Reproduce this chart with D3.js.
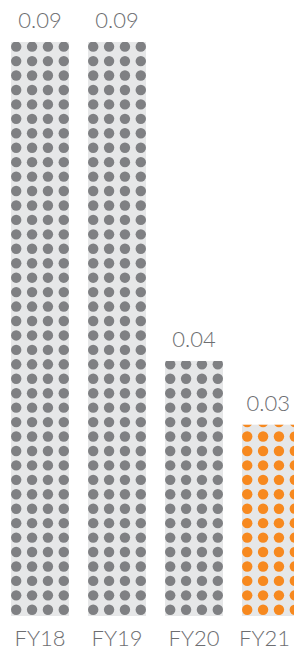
<!DOCTYPE html>
<html>
<head>
<meta charset="utf-8">
<script src="https://cdn.jsdelivr.net/npm/d3@7"></script>
<style>
  html, body { margin: 0; padding: 0; background: #fff; }
  text { font-family: "Lato", "Open Sans", sans-serif; font-weight: 300; fill: #6d6e71; }
</style>
</head>
<body>
<div id="chart"></div>
<script>
// data
const years = ["FY18", "FY19", "FY20", "FY21"];
const values = [0.09, 0.09, 0.04, 0.03];
const valueLabels = ["0.09", "0.09", "0.04", "0.03"];
const highlight = ["FY21"];

const width = 294;
const height = 651;

const svg = d3.select("#chart")
    .append("svg")
    .attr("width", width)
    .attr("height", height);

// scales
const x = d3.scaleBand()
    .domain(years)
    .range([11, 300])
    .paddingInner(0.247)
    .paddingOuter(0);

const y = d3.scaleLinear()
    .domain([0, 0.09])
    .range([616, 42]);

const dotR = 5.2;
const rowStep = 14.44;
const cols = 4;

const defs = svg.append("defs");

const bars = svg.selectAll(".bar")
    .data(years.map((d, i) => ({ year: d, value: values[i], label: valueLabels[i] })))
    .enter()
    .append("g")
    .attr("class", "bar");

// clip each bar so the top row of dots gets cut like the original
bars.each(function(d, i) {
    defs.append("clipPath")
        .attr("id", "clip" + i)
        .append("rect")
        .attr("x", x(d.year))
        .attr("y", y(d.value))
        .attr("width", x.bandwidth())
        .attr("height", y(0) - y(d.value));
});

bars.append("rect")
    .attr("x", d => x(d.year))
    .attr("y", d => y(d.value))
    .attr("width", x.bandwidth())
    .attr("height", d => y(0) - y(d.value))
    .attr("fill", "#e6e7e8");

bars.append("g")
    .attr("clip-path", (d, i) => `url(#clip${i})`)
    .each(function(d) {
        const h = y(0) - y(d.value);
        const rows = Math.ceil((h - 1) / rowStep);
        const colStep = (x.bandwidth() - 2 * dotR) / (cols - 1);
        const dots = [];
        for (let r = 0; r < rows; r++) {
            for (let c = 0; c < cols; c++) dots.push({ r, c });
        }
        d3.select(this).selectAll("circle")
            .data(dots)
            .enter()
            .append("circle")
            .attr("cx", p => x(d.year) + dotR + p.c * colStep)
            .attr("cy", p => y(0) - 1 - dotR - p.r * rowStep)
            .attr("r", dotR)
            .attr("fill", highlight.includes(d.year) ? "#f7891f" : "#7f8083");
    });

// value labels
bars.append("text")
    .attr("x", d => x(d.year) + x.bandwidth() / 2)
    .attr("y", d => y(d.value) - 14)
    .attr("text-anchor", "middle")
    .attr("font-size", 22)
    .text(d => d.label);

// category labels
svg.append("g")
    .attr("transform", "translate(0,616)")
    .call(d3.axisBottom(x).tickSize(0).tickPadding(14))
    .call(g => g.select(".domain").remove())
    .call(g => g.selectAll("text")
        .attr("font-size", 22)
        .style("font-family", '"Lato", "Open Sans", sans-serif')
        .attr("fill", "#6d6e71"));

// keep the last label inside the window
svg.selectAll(".tick text, .bar text").each(function() {
    const box = this.getBoundingClientRect();
    const over = box.right - (width - 4);
    if (over > 0) d3.select(this).attr("dx", -over);
});
</script>
</body>
</html>
